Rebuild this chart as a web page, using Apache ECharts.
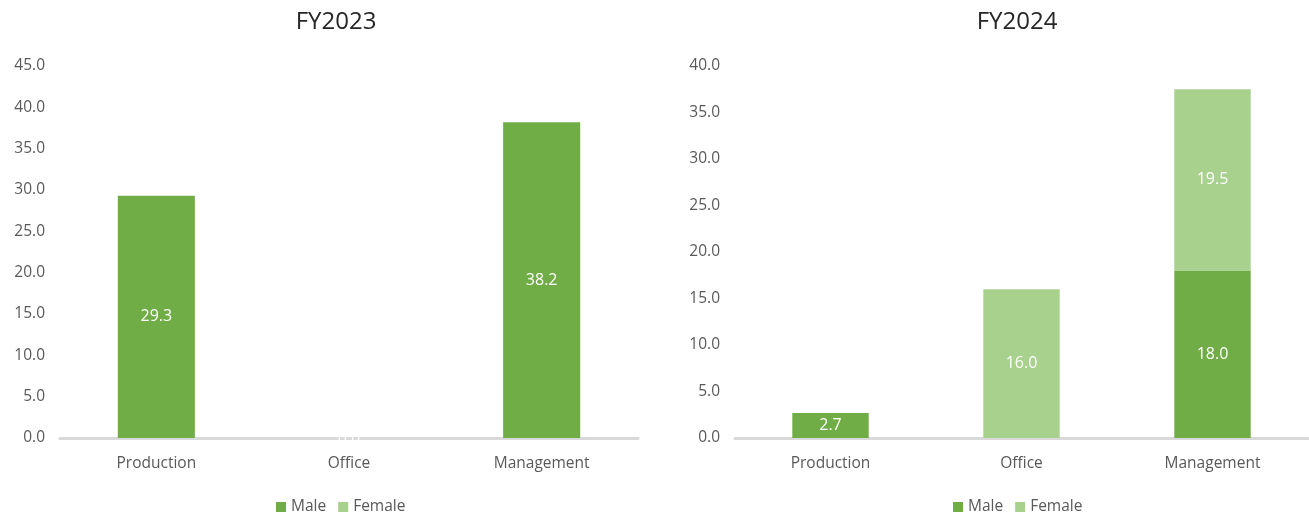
<!DOCTYPE html>
<html>
<head>
<meta charset="utf-8">
<script src="https://cdn.jsdelivr.net/npm/echarts@6/dist/echarts.min.js"></script>
<style>
  html, body { margin: 0; padding: 0; background: #fff; }
  #chart { width: 1309px; height: 517px; }
</style>
</head>
<body>
<div id="chart"></div>
<script>
// Employee breakdown by job category and gender
const categories = ['Production', 'Office', 'Management'];
const male2023 = [29.3, 0.0, 38.2];
const female2023 = [null, null, null];
const male2024 = [2.7, null, 18.0];
const female2024 = [null, 16.0, 19.5];

const MALE = '#70ad47';
const FEMALE = '#a9d18e';
const FONT = 'Open Sans';
const TEXT = '#595959';

const chart = echarts.init(document.getElementById('chart'));

function valueLabel() {
  return {
    show: true,
    position: 'inside',
    color: '#fff',
    fontFamily: FONT,
    fontSize: 16,
    formatter: p => (p.value == null ? '' : Number(p.value).toFixed(1))
  };
}

function xAxis(idx) {
  return {
    type: 'category',
    gridIndex: idx,
    data: categories,
    axisLine: { lineStyle: { color: '#d9d9d9', width: 3 } },
    axisTick: { show: false },
    axisLabel: { color: TEXT, fontFamily: FONT, fontSize: 15.5, margin: 18 }
  };
}

function yAxis(idx, max) {
  return {
    type: 'value',
    gridIndex: idx,
    min: 0,
    max: max,
    interval: 5,
    splitLine: { show: false },
    axisLine: { show: false },
    axisTick: { show: false },
    axisLabel: {
      color: TEXT, fontFamily: FONT, fontSize: 15.5, margin: 15,
      formatter: v => v.toFixed(1)
    }
  };
}

function barSeries(name, data, color, idx, stack) {
  return {
    name: name,
    type: 'bar',
    stack: stack,
    xAxisIndex: idx,
    yAxisIndex: idx,
    data: data,
    barWidth: '40%',
    itemStyle: { color: color },
    label: valueLabel()
  };
}

const legendBase = {
  icon: 'rect',
  itemWidth: 10,
  itemHeight: 10,
  itemGap: 12,
  itemStyle: { borderWidth: 0 },
  top: 494,
  textStyle: { color: TEXT, fontFamily: FONT, fontSize: 15.5 },
  data: ['Male', 'Female']
};

chart.setOption({
  animation: false,
  title: [
    { text: 'FY2023', left: 331, top: 5, textAlign: 'center',
      textStyle: { color: '#262626', fontFamily: FONT, fontSize: 24, fontWeight: 'normal' } },
    { text: 'FY2024', left: 1012, top: 5, textAlign: 'center',
      textStyle: { color: '#262626', fontFamily: FONT, fontSize: 24, fontWeight: 'normal' } }
  ],
  legend: [
    Object.assign({}, legendBase, { left: 271 }),
    Object.assign({}, legendBase, { left: 948 })
  ],
  grid: [
    { left: 60, right: 671, top: 66, bottom: 79 },
    { left: 735, right: 1, top: 66, bottom: 79 }
  ],
  xAxis: [xAxis(0), xAxis(1)],
  yAxis: [yAxis(0, 45), yAxis(1, 40)],
  series: [
    barSeries('Male', male2023, MALE, 0, 'fy2023'),
    barSeries('Female', female2023, FEMALE, 0, 'fy2023'),
    barSeries('Male', male2024, MALE, 1, 'fy2024'),
    barSeries('Female', female2024, FEMALE, 1, 'fy2024')
  ]
});
</script>
</body>
</html>
